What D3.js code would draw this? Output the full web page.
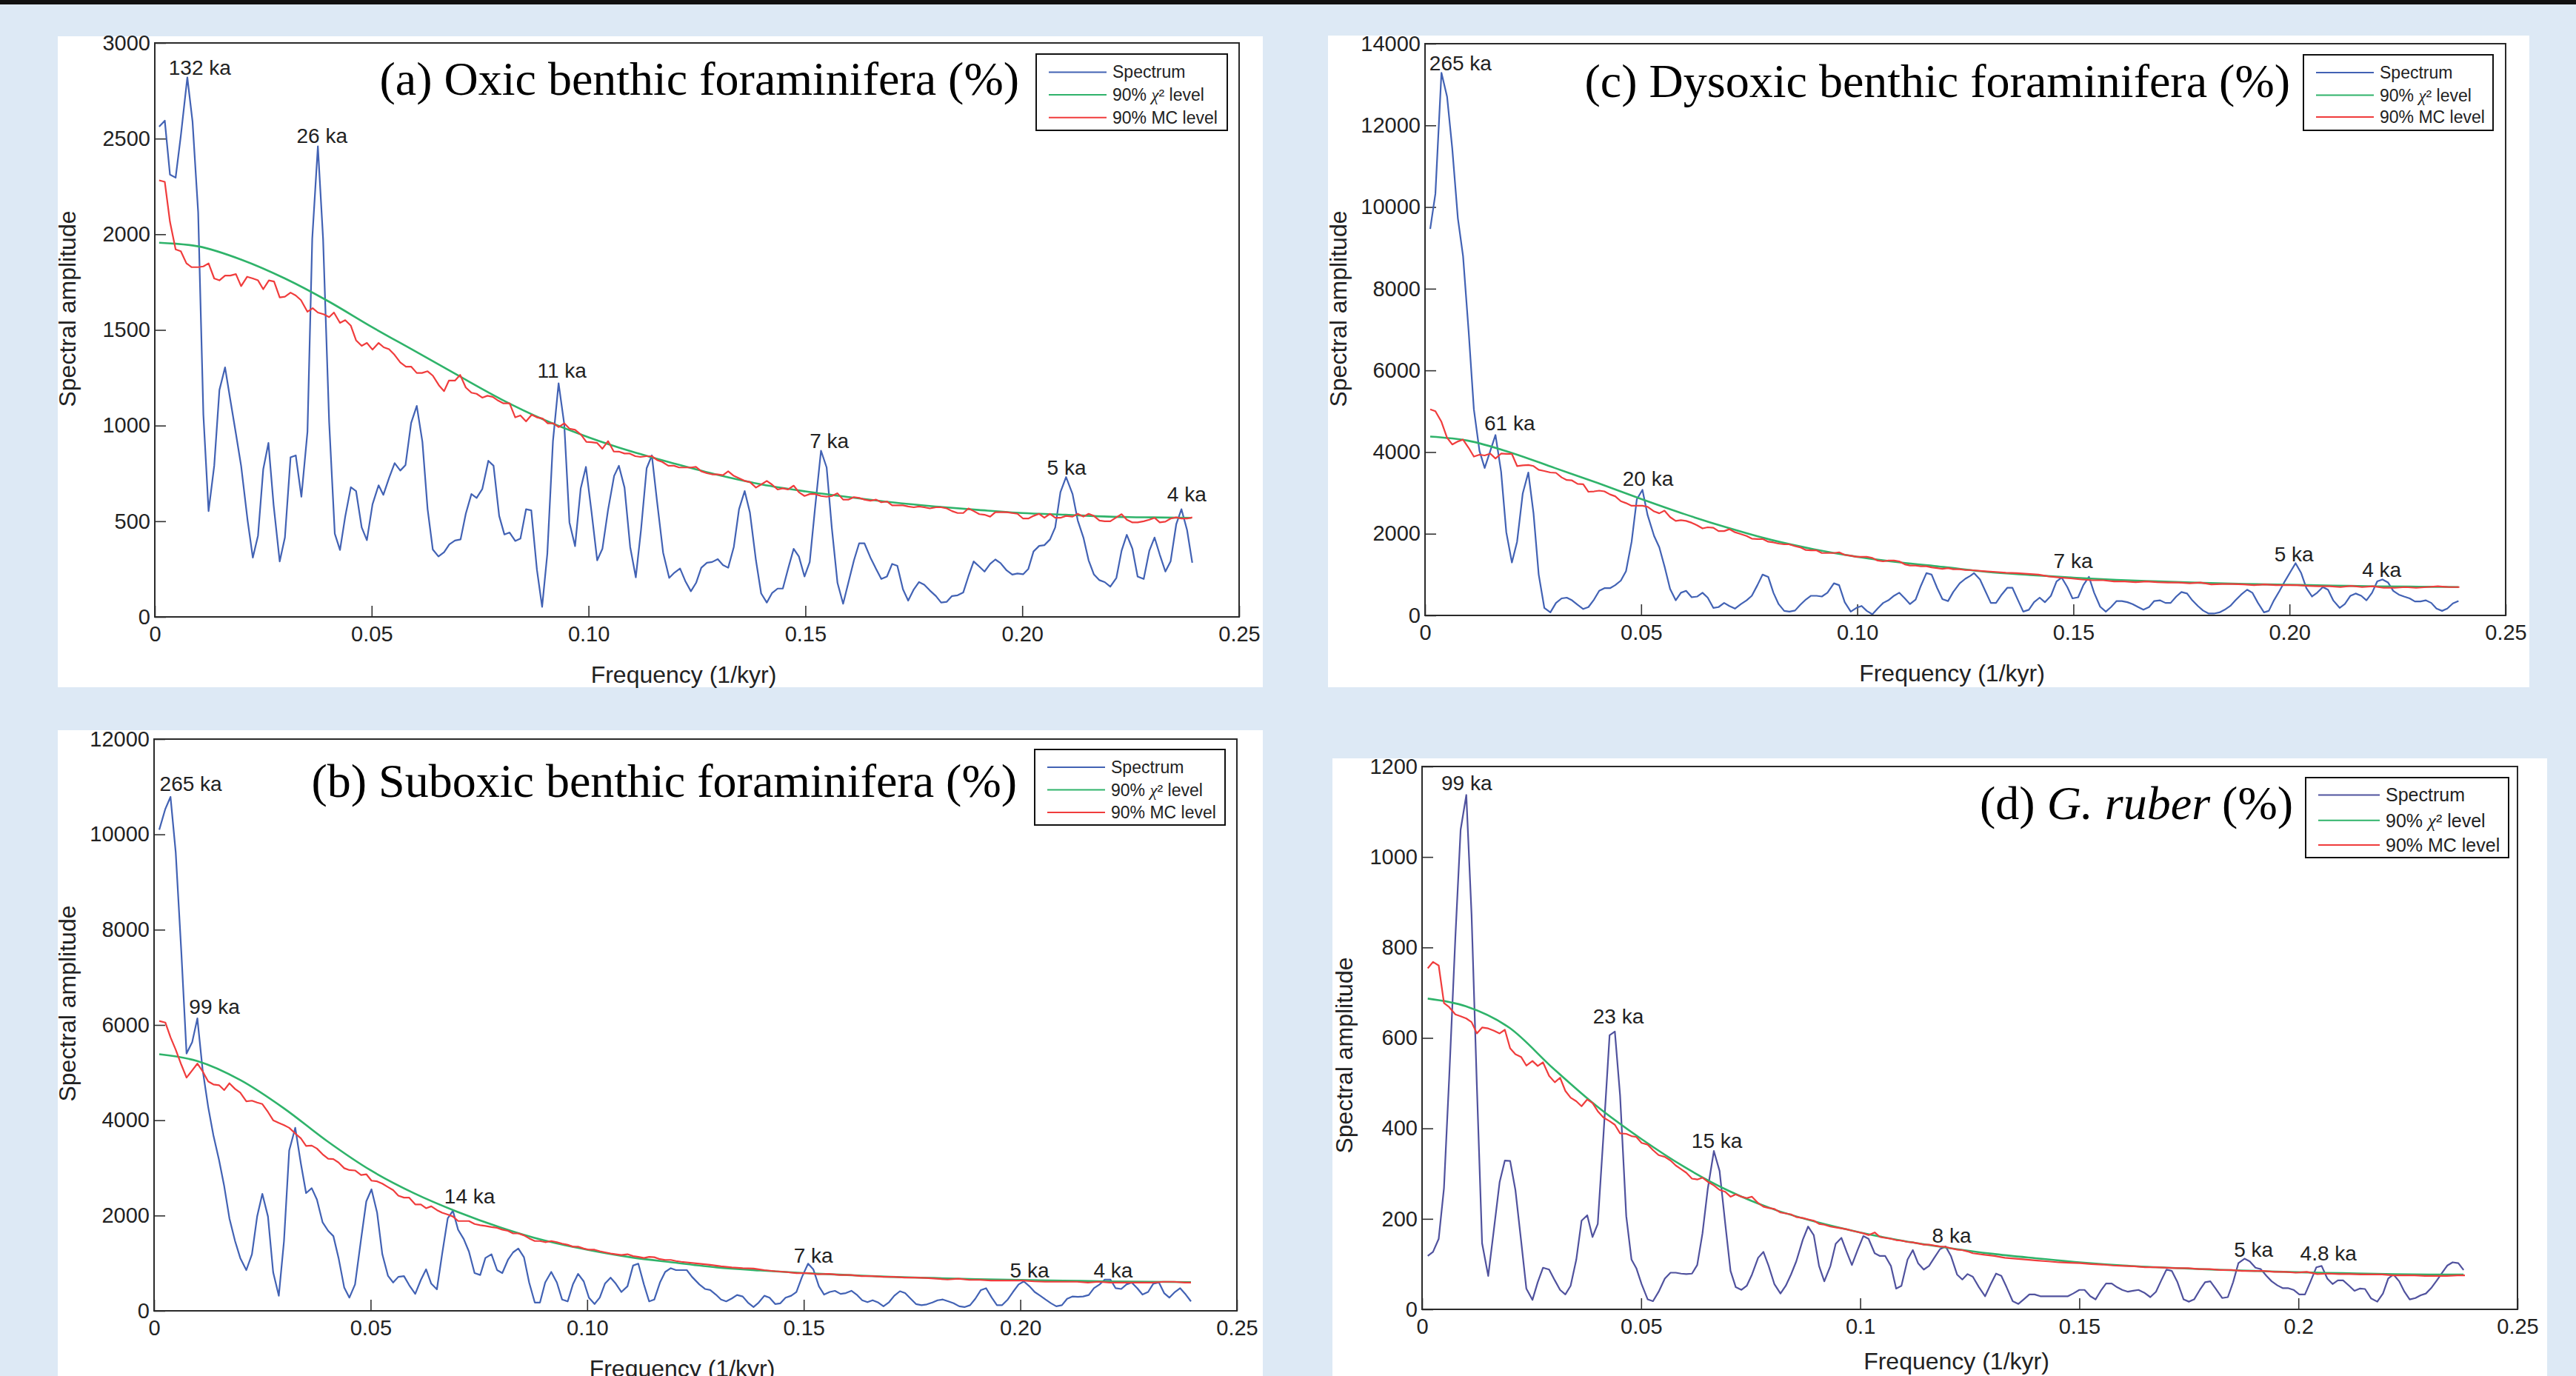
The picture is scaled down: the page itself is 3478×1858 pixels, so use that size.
<!DOCTYPE html>
<html>
<head>
<meta charset="utf-8">
<script src="https://cdn.jsdelivr.net/npm/d3@7"></script>
<style>
  html, body { margin: 0; padding: 0; background: #dde9f5; }
  svg { display: block; }
</style>
</head>
<body>
<svg id="chart" width="3478" height="1858"></svg>
<script>
// ---- tick labels ----
const xTickValues = [0, 0.05, 0.10, 0.15, 0.20, 0.25];
const xLabelsLong = ["0", "0.05", "0.10", "0.15", "0.20", "0.25"];
const xLabelsShort = ["0", "0.05", "0.1", "0.15", "0.2", "0.25"];
const yTicksOxic = [0, 500, 1000, 1500, 2000, 2500, 3000];
const yTicksSuboxic = [0, 2000, 4000, 6000, 8000, 10000, 12000];
const yTicksDysoxic = [0, 2000, 4000, 6000, 8000, 10000, 12000, 14000];
const yTicksRuber = [0, 200, 400, 600, 800, 1000, 1200];

const legendNames = ["Spectrum", "90% \u03C7\u00B2 level", "90% MC level"];

// ---- (a) Oxic benthic foraminifera: [frequency, amplitude] ----
const oxicSpectrum = [[0.001,2563],[0.0023,2594],[0.0035,2312],[0.0048,2296],[0.006,2515],[0.0075,2820],[0.0087,2589],[0.010,2114],[0.0112,1057],[0.0124,553],[0.0137,790],[0.0149,1186],[0.0162,1304],[0.0174,1136],[0.0187,958],[0.0199,790],[0.0214,504],[0.0226,310],[0.0238,425],[0.025,771],[0.0262,909],[0.0274,583],[0.0288,290],[0.030,415],[0.0313,834],[0.0325,844],[0.0338,628],[0.0352,968],[0.0363,1976],[0.0376,2460],[0.0388,1976],[0.0402,1018],[0.0415,435],[0.0427,350],[0.0439,524],[0.0452,678],[0.0464,658],[0.0477,468],[0.0489,401],[0.0502,589],[0.0516,688],[0.0527,638],[0.054,725],[0.0553,804],[0.0566,765],[0.0578,794],[0.0591,1014],[0.0604,1103],[0.0617,915],[0.0629,563],[0.0641,352],[0.0654,316],[0.0667,338],[0.0679,379],[0.0692,399],[0.0705,405],[0.0717,539],[0.073,642],[0.0742,622],[0.0755,668],[0.0769,816],[0.0781,790],[0.0794,528],[0.0806,431],[0.0818,441],[0.0831,397],[0.0843,409],[0.0856,563],[0.0868,557],[0.0881,247],[0.0893,53],[0.0905,330],[0.0918,919],[0.0931,1221],[0.0944,1008],[0.0956,494],[0.0969,370],[0.0982,672],[0.0994,784],[0.1007,547],[0.102,296],[0.1032,356],[0.1045,559],[0.1059,737],[0.107,790],[0.1083,676],[0.1096,366],[0.1109,207],[0.1121,454],[0.1134,777],[0.1146,844],[0.1158,603],[0.1172,336],[0.1186,204],[0.1198,231],[0.1211,253],[0.1223,188],[0.1236,134],[0.1248,178],[0.126,257],[0.1273,283],[0.1285,287],[0.1298,302],[0.131,271],[0.1322,257],[0.1335,366],[0.1347,563],[0.136,658],[0.1372,547],[0.1386,296],[0.1398,123],[0.1411,75],[0.1423,124],[0.1436,148],[0.1448,148],[0.146,251],[0.1473,356],[0.1485,316],[0.1498,211],[0.151,287],[0.1522,563],[0.1536,869],[0.1549,781],[0.1561,464],[0.1574,178],[0.1587,69],[0.1599,178],[0.1612,296],[0.1624,385],[0.1636,385],[0.165,310],[0.1663,251],[0.1675,198],[0.1688,211],[0.17,277],[0.1712,267],[0.1725,144],[0.1737,85],[0.175,144],[0.1762,182],[0.1774,168],[0.1787,138],[0.1801,109],[0.1813,75],[0.1826,79],[0.1838,109],[0.1851,113],[0.1864,128],[0.1876,213],[0.1888,290],[0.1901,263],[0.1913,237],[0.1926,277],[0.1938,300],[0.195,281],[0.1964,243],[0.1977,221],[0.1989,227],[0.2002,223],[0.2014,251],[0.2026,342],[0.2039,371],[0.2051,375],[0.2064,405],[0.2076,468],[0.2088,652],[0.2101,731],[0.2116,642],[0.2128,504],[0.2141,415],[0.2153,296],[0.2165,223],[0.2178,192],[0.219,182],[0.2203,158],[0.2217,204],[0.2229,346],[0.2241,429],[0.2254,356],[0.2266,211],[0.228,198],[0.2293,346],[0.2305,415],[0.2317,326],[0.233,237],[0.2342,290],[0.2355,484],[0.2367,563],[0.238,454],[0.2392,283]];
const oxicChi = [[0.001,1956],[0.01,1937],[0.02,1867],[0.03,1769],[0.04,1650],[0.05,1516],[0.06,1389],[0.07,1261],[0.08,1136],[0.09,1028],[0.10,939],[0.11,864],[0.12,800],[0.13,741],[0.14,692],[0.15,656],[0.16,626],[0.17,599],[0.18,577],[0.19,559],[0.20,543],[0.21,534],[0.22,524],[0.23,520],[0.239,518]];
const oxicMC = [[0.001,2282],[0.0023,2274],[0.0035,2065],[0.0048,1921],[0.006,1911],[0.0073,1848],[0.0085,1828],[0.010,1828],[0.0112,1832],[0.0124,1848],[0.0137,1769],[0.0149,1759],[0.0162,1784],[0.0174,1784],[0.0187,1792],[0.0199,1729],[0.0213,1778],[0.0226,1769],[0.0238,1759],[0.025,1713],[0.0263,1759],[0.0275,1753],[0.0288,1670],[0.030,1674],[0.0313,1695],[0.0325,1680],[0.0337,1656],[0.0352,1595],[0.0364,1614],[0.0376,1591],[0.039,1581],[0.0402,1567],[0.0413,1591],[0.0427,1537],[0.0439,1551],[0.0452,1522],[0.0464,1446],[0.0477,1417],[0.0489,1432],[0.0502,1397],[0.0516,1432],[0.0528,1409],[0.054,1399],[0.0553,1369],[0.0566,1330],[0.0579,1308],[0.0591,1308],[0.0604,1275],[0.0616,1275],[0.0629,1284],[0.0641,1261],[0.0655,1211],[0.0667,1180],[0.0678,1235],[0.0692,1235],[0.0704,1265],[0.0717,1199],[0.073,1172],[0.0742,1166],[0.0755,1146],[0.0767,1156],[0.0779,1150],[0.0792,1130],[0.0804,1116],[0.0818,1116],[0.0831,1043],[0.0843,1053],[0.0856,1022],[0.0869,1057],[0.0881,1043],[0.0894,1037],[0.0906,1012],[0.0919,1012],[0.0931,992],[0.0944,1012],[0.0956,984],[0.0969,978],[0.0983,952],[0.0995,915],[0.1007,913],[0.102,909],[0.1032,879],[0.1045,919],[0.1058,865],[0.107,864],[0.1083,854],[0.1095,854],[0.1108,840],[0.112,836],[0.1133,840],[0.1146,840],[0.1158,820],[0.117,810],[0.1184,790],[0.1197,790],[0.1209,781],[0.1221,781],[0.1236,781],[0.1248,784],[0.126,761],[0.1273,751],[0.1285,745],[0.1298,745],[0.131,741],[0.1322,761],[0.1335,737],[0.1347,725],[0.136,711],[0.1372,705],[0.1386,676],[0.1398,692],[0.1411,711],[0.1423,692],[0.1436,666],[0.1448,672],[0.146,666],[0.1473,686],[0.1485,652],[0.1498,632],[0.151,642],[0.1522,642],[0.1536,632],[0.1549,628],[0.1561,632],[0.1574,646],[0.1587,613],[0.1599,613],[0.1612,626],[0.1624,622],[0.1636,613],[0.165,607],[0.1663,613],[0.1675,599],[0.1688,603],[0.17,583],[0.1712,583],[0.1725,583],[0.1737,577],[0.175,573],[0.1762,577],[0.1774,573],[0.1787,567],[0.1801,573],[0.1813,573],[0.1826,567],[0.1838,553],[0.1851,543],[0.1864,543],[0.1876,567],[0.1888,553],[0.1901,537],[0.1913,534],[0.1926,524],[0.1938,547],[0.195,547],[0.1964,547],[0.1977,543],[0.1989,539],[0.2002,514],[0.2014,514],[0.2026,528],[0.2039,539],[0.2051,518],[0.2064,539],[0.2076,518],[0.2088,518],[0.2101,528],[0.2116,524],[0.2128,539],[0.2141,524],[0.2153,539],[0.2165,528],[0.2178,504],[0.219,500],[0.2203,500],[0.2217,520],[0.2229,537],[0.2241,508],[0.2254,494],[0.2266,494],[0.228,500],[0.2293,508],[0.2305,518],[0.2317,494],[0.233,498],[0.2342,514],[0.2355,520],[0.2367,514],[0.238,514],[0.2392,520]];
const oxicPeaks = [[0.0032,2834,"132 ka"],[0.0327,2477,"26 ka"],[0.0882,1250,"11 ka"],[0.151,884,"7 ka"],[0.2057,744,"5 ka"],[0.2334,602,"4 ka"]];

// ---- (b) Suboxic benthic foraminifera ----
const suboxicSpectrum = [[0.0012,10098],[0.0026,10534],[0.0038,10787],[0.005,9623],[0.0063,7524],[0.0075,5401],[0.0088,5639],[0.01,6138],[0.0112,5069],[0.0125,4277],[0.0137,3683],[0.015,3168],[0.0162,2614],[0.0174,1940],[0.0187,1465],[0.0199,1109],[0.0213,855],[0.0226,1188],[0.0238,1980],[0.025,2455],[0.0263,1980],[0.0275,808],[0.0288,317],[0.03,1465],[0.0312,3366],[0.0326,3841],[0.0339,3089],[0.0351,2471],[0.0364,2574],[0.0376,2336],[0.0389,1861],[0.0402,1679],[0.0414,1568],[0.0426,1109],[0.0439,491],[0.0451,277],[0.0464,554],[0.0478,1505],[0.049,2297],[0.0502,2550],[0.0515,2059],[0.0527,1188],[0.054,737],[0.0552,594],[0.0564,713],[0.0577,729],[0.0589,539],[0.0603,356],[0.0616,649],[0.0628,871],[0.064,570],[0.0653,451],[0.0665,1188],[0.0678,1940],[0.069,2099],[0.0702,1703],[0.0715,1505],[0.0727,1243],[0.074,792],[0.0753,752],[0.0765,1109],[0.0779,1188],[0.0792,855],[0.0804,792],[0.0817,1069],[0.0829,1228],[0.0841,1307],[0.0854,1125],[0.0866,594],[0.0879,174],[0.0891,174],[0.0903,594],[0.0917,816],[0.093,594],[0.0942,238],[0.0955,198],[0.0967,554],[0.0979,776],[0.0992,618],[0.1004,277],[0.1017,143],[0.1029,277],[0.1041,570],[0.1054,697],[0.1066,570],[0.1079,396],[0.1093,515],[0.1106,950],[0.1118,990],[0.1131,554],[0.1143,198],[0.1155,238],[0.1168,594],[0.118,816],[0.1193,895],[0.1205,855],[0.1217,855],[0.123,855],[0.1242,713],[0.1259,554],[0.1272,459],[0.1284,436],[0.1297,341],[0.1309,238],[0.1321,198],[0.1334,261],[0.1346,333],[0.1359,301],[0.1371,174],[0.1384,79],[0.1396,174],[0.1409,317],[0.1421,277],[0.1434,143],[0.1446,158],[0.1458,277],[0.1471,317],[0.1483,396],[0.1496,713],[0.151,990],[0.1522,871],[0.1535,515],[0.1547,341],[0.156,396],[0.1572,420],[0.1585,356],[0.1597,372],[0.161,420],[0.1622,341],[0.1635,222],[0.1647,182],[0.1659,222],[0.1672,174],[0.1684,95],[0.1697,182],[0.1709,317],[0.1722,412],[0.1734,372],[0.1747,253],[0.1759,143],[0.1772,119],[0.1784,135],[0.1797,174],[0.1809,222],[0.1821,238],[0.1834,198],[0.1846,158],[0.1859,95],[0.1871,79],[0.1884,119],[0.1896,253],[0.1909,436],[0.1921,475],[0.1934,277],[0.1946,119],[0.1958,119],[0.1971,238],[0.1983,396],[0.1996,554],[0.2008,618],[0.2021,515],[0.2033,396],[0.2046,317],[0.2058,238],[0.2071,158],[0.2083,95],[0.2096,119],[0.2108,253],[0.212,301],[0.2133,293],[0.2145,301],[0.2158,333],[0.217,475],[0.2183,554],[0.2195,657],[0.2208,657],[0.222,475],[0.2233,459],[0.2245,554],[0.2257,594],[0.227,475],[0.2282,341],[0.2295,396],[0.2307,570],[0.232,594],[0.2332,372],[0.2344,277],[0.2357,396],[0.2369,475],[0.2382,341],[0.2394,198]];
const suboxicChi = [[0.0012,5386],[0.01,5243],[0.02,4840],[0.03,4250],[0.04,3560],[0.05,2950],[0.06,2470],[0.07,2080],[0.08,1750],[0.09,1480],[0.10,1283],[0.11,1125],[0.12,1014],[0.13,911],[0.14,847],[0.15,792],[0.16,752],[0.17,713],[0.18,689],[0.19,665],[0.20,649],[0.21,634],[0.22,618],[0.23,610],[0.2394,602]];
const suboxicMC = [[0.0012,6083],[0.0026,6051],[0.0038,5742],[0.005,5481],[0.0063,5164],[0.0075,4895],[0.0088,5045],[0.01,5188],[0.0112,5029],[0.0125,4815],[0.0137,4752],[0.015,4736],[0.0162,4633],[0.0174,4776],[0.0187,4657],[0.0199,4578],[0.0213,4396],[0.0226,4411],[0.0238,4372],[0.025,4340],[0.0263,4174],[0.0275,4000],[0.0288,3944],[0.03,3897],[0.0312,3841],[0.0326,3722],[0.0339,3619],[0.0351,3461],[0.0364,3469],[0.0376,3406],[0.0389,3287],[0.0402,3192],[0.0414,3184],[0.0426,3113],[0.0439,2994],[0.0451,2954],[0.0464,2946],[0.0478,2851],[0.049,2867],[0.0502,2732],[0.0515,2717],[0.0527,2669],[0.054,2598],[0.0552,2534],[0.0564,2416],[0.0577,2376],[0.0589,2376],[0.0603,2233],[0.0616,2233],[0.0628,2154],[0.064,2194],[0.0653,2115],[0.0665,2059],[0.0678,2020],[0.069,1980],[0.0702,1885],[0.0715,1885],[0.0727,1885],[0.074,1822],[0.0753,1798],[0.0765,1782],[0.0779,1758],[0.0792,1742],[0.0804,1703],[0.0817,1679],[0.0829,1624],[0.0841,1624],[0.0854,1584],[0.0866,1521],[0.0879,1465],[0.0891,1465],[0.0903,1441],[0.0917,1465],[0.093,1441],[0.0942,1410],[0.0955,1386],[0.0967,1346],[0.0979,1346],[0.0992,1307],[0.1004,1283],[0.1017,1283],[0.1029,1251],[0.1041,1228],[0.1054,1204],[0.1066,1188],[0.1079,1172],[0.1093,1188],[0.1106,1148],[0.1118,1133],[0.1131,1109],[0.1143,1133],[0.1155,1125],[0.1168,1085],[0.118,1069],[0.1193,1069],[0.1205,1045],[0.1217,1030],[0.1259,990],[0.1284,966],[0.1309,935],[0.1334,911],[0.1359,895],[0.1384,887],[0.1409,855],[0.1434,832],[0.1458,816],[0.1483,792],[0.1508,792],[0.1533,768],[0.1558,776],[0.1583,752],[0.1608,752],[0.1633,729],[0.1658,729],[0.1683,713],[0.1708,713],[0.1733,697],[0.1757,697],[0.1782,689],[0.1807,673],[0.1832,657],[0.1857,673],[0.1882,649],[0.1907,649],[0.1932,634],[0.1957,634],[0.1982,634],[0.2007,634],[0.2032,618],[0.2057,610],[0.2081,610],[0.2106,610],[0.2131,610],[0.2156,594],[0.2181,610],[0.2206,594],[0.2231,594],[0.2256,594],[0.2281,594],[0.2306,594],[0.2331,610],[0.2355,610],[0.238,594],[0.2394,594]];
const suboxicPeaks = [[0.0013,10909,"265 ka"],[0.0081,6228,"99 ka"],[0.067,2249,"14 ka"],[0.1477,1004,"7 ka"],[0.1976,702,"5 ka"],[0.2169,702,"4 ka"]];

// ---- (c) Dysoxic benthic foraminifera ----
const dysoxicSpectrum = [[0.0012,9464],[0.0024,10325],[0.0038,13288],[0.0051,12705],[0.0063,11436],[0.0076,9723],[0.0088,8797],[0.0101,6945],[0.0113,5047],[0.0126,4028],[0.0138,3611],[0.0151,4028],[0.0163,4417],[0.0176,3519],[0.0188,2037],[0.0201,1296],[0.0213,1806],[0.0226,2982],[0.0239,3500],[0.0251,2500],[0.0263,1000],[0.0276,185],[0.029,74],[0.0303,306],[0.0316,417],[0.0328,435],[0.034,370],[0.0353,259],[0.0366,157],[0.0378,204],[0.0391,389],[0.0403,602],[0.0415,667],[0.0428,667],[0.044,741],[0.0453,852],[0.0465,1083],[0.0478,1806],[0.049,2843],[0.0503,3074],[0.0515,2454],[0.053,1945],[0.0542,1667],[0.0554,1204],[0.0567,648],[0.058,370],[0.0592,556],[0.0604,602],[0.0617,444],[0.063,463],[0.0642,556],[0.0654,435],[0.0667,185],[0.0679,204],[0.0692,306],[0.0704,232],[0.0717,167],[0.0731,278],[0.0744,370],[0.0756,481],[0.0769,741],[0.0781,1000],[0.0794,944],[0.0806,556],[0.0818,278],[0.0831,111],[0.0843,93],[0.0856,120],[0.0868,259],[0.0881,389],[0.0893,481],[0.0906,481],[0.0918,463],[0.0931,556],[0.0946,787],[0.0958,741],[0.0971,324],[0.0985,93],[0.0998,185],[0.101,232],[0.1022,111],[0.1035,28],[0.1047,167],[0.106,306],[0.1072,370],[0.1085,481],[0.1097,556],[0.111,417],[0.1122,278],[0.1135,389],[0.1147,722],[0.116,1037],[0.1172,1000],[0.1185,667],[0.1197,398],[0.121,352],[0.1222,574],[0.1237,787],[0.125,898],[0.1262,972],[0.127,1037],[0.1284,880],[0.1296,602],[0.1309,306],[0.1321,306],[0.1334,509],[0.1347,676],[0.1359,676],[0.1372,370],[0.1384,93],[0.1397,139],[0.1409,324],[0.1422,435],[0.1434,324],[0.1448,481],[0.1461,833],[0.1473,926],[0.1486,694],[0.1498,417],[0.1511,444],[0.1523,741],[0.1536,944],[0.1548,556],[0.1562,213],[0.1575,93],[0.1587,204],[0.16,352],[0.1612,352],[0.1625,324],[0.1637,278],[0.165,204],[0.1662,139],[0.1675,204],[0.1687,352],[0.17,370],[0.1713,306],[0.1725,306],[0.1738,463],[0.175,574],[0.1763,537],[0.1775,370],[0.1788,232],[0.18,120],[0.1813,46],[0.1825,46],[0.1838,74],[0.185,139],[0.1863,232],[0.1875,370],[0.1888,509],[0.1902,630],[0.1914,556],[0.1927,306],[0.1941,74],[0.1952,111],[0.1964,370],[0.1977,602],[0.1989,833],[0.2002,1065],[0.2014,1278],[0.2027,1037],[0.2039,667],[0.2052,463],[0.2064,556],[0.2077,694],[0.2089,630],[0.2101,370],[0.2116,185],[0.2128,278],[0.2141,481],[0.2153,537],[0.2166,481],[0.2178,370],[0.2191,556],[0.2203,833],[0.2215,880],[0.2228,806],[0.224,602],[0.2253,509],[0.2265,463],[0.2278,417],[0.229,343],[0.2303,343],[0.2315,370],[0.2328,306],[0.234,167],[0.2353,111],[0.2365,167],[0.2378,296],[0.2391,352]];
const dysoxicChi = [[0.0012,4380],[0.01,4278],[0.02,3982],[0.03,3611],[0.04,3241],[0.05,2852],[0.06,2482],[0.07,2148],[0.08,1852],[0.09,1620],[0.10,1435],[0.11,1296],[0.12,1185],[0.13,1065],[0.14,991],[0.15,926],[0.16,870],[0.17,833],[0.18,796],[0.19,769],[0.20,750],[0.21,731],[0.22,713],[0.23,704],[0.2391,694]];
const dysoxicMC = [[0.0012,5047],[0.0024,5000],[0.0038,4741],[0.0051,4352],[0.0063,4186],[0.0076,4260],[0.0088,4306],[0.0101,4102],[0.0113,3889],[0.0126,3935],[0.0138,3917],[0.0151,3963],[0.0163,3843],[0.0176,3963],[0.0188,3954],[0.0201,3954],[0.0213,3658],[0.0226,3676],[0.0239,3685],[0.0251,3658],[0.0263,3565],[0.0276,3537],[0.029,3500],[0.0303,3491],[0.0316,3380],[0.0328,3315],[0.034,3306],[0.0353,3222],[0.0366,3213],[0.0378,3028],[0.0391,3037],[0.0403,3056],[0.0415,3037],[0.0428,2963],[0.044,2917],[0.0453,2797],[0.0465,2750],[0.0478,2685],[0.049,2685],[0.0503,2685],[0.0515,2658],[0.053,2547],[0.0542,2500],[0.0554,2565],[0.0567,2408],[0.058,2315],[0.0592,2334],[0.0604,2315],[0.0617,2269],[0.063,2204],[0.0642,2130],[0.0654,2158],[0.0667,2148],[0.0679,2065],[0.0692,2065],[0.0704,2111],[0.0717,2037],[0.0731,1991],[0.0744,1945],[0.0756,1880],[0.0769,1871],[0.0781,1871],[0.0794,1806],[0.0806,1787],[0.0818,1759],[0.0831,1741],[0.0843,1741],[0.0856,1695],[0.0868,1667],[0.0881,1602],[0.0893,1593],[0.0906,1593],[0.0918,1528],[0.0931,1528],[0.0946,1528],[0.0958,1546],[0.0971,1482],[0.0985,1463],[0.0998,1435],[0.101,1435],[0.1022,1435],[0.1035,1408],[0.1047,1343],[0.106,1324],[0.1072,1343],[0.1085,1343],[0.1097,1324],[0.111,1250],[0.1122,1222],[0.1135,1222],[0.1147,1204],[0.116,1204],[0.1172,1176],[0.1185,1157],[0.1197,1139],[0.121,1157],[0.1222,1130],[0.1237,1130],[0.125,1111],[0.1262,1111],[0.1295,1083],[0.132,1065],[0.1344,1046],[0.1369,1037],[0.1394,1019],[0.1419,1000],[0.1444,954],[0.1469,926],[0.1494,907],[0.1519,880],[0.1544,861],[0.1569,861],[0.1594,833],[0.1619,833],[0.1644,815],[0.1669,833],[0.1694,815],[0.1719,806],[0.1744,806],[0.1769,787],[0.1794,806],[0.1819,759],[0.1844,769],[0.1869,769],[0.1894,759],[0.1918,741],[0.1943,759],[0.1968,741],[0.1993,741],[0.2018,741],[0.2043,722],[0.2068,713],[0.2093,713],[0.2118,694],[0.2143,722],[0.2168,694],[0.2193,713],[0.2218,676],[0.2243,676],[0.2268,694],[0.2293,676],[0.2318,694],[0.2343,713],[0.2368,694],[0.2393,694]];
const dysoxicPeaks = [[0.001,13340,"265 ka"],[0.0137,4530,"61 ka"],[0.0457,3171,"20 ka"],[0.1454,1156,"7 ka"],[0.1965,1321,"5 ka"],[0.2168,942,"4 ka"]];

// ---- (d) G. ruber ----
const ruberSpectrum = [[0.0013,118],[0.0025,127],[0.0038,156],[0.005,268],[0.0062,514],[0.0076,822],[0.0088,1060],[0.0101,1137],[0.0113,872],[0.0125,497],[0.0137,146],[0.0151,74],[0.0164,177],[0.0177,281],[0.0189,329],[0.0201,328],[0.0213,264],[0.0226,152],[0.0238,46],[0.0252,21],[0.0264,60],[0.0276,92],[0.029,88],[0.0303,64],[0.0315,43],[0.0327,33],[0.0339,52],[0.0352,110],[0.0364,196],[0.0377,208],[0.0389,160],[0.0401,189],[0.0414,385],[0.0428,606],[0.044,614],[0.0452,472],[0.0466,206],[0.0478,110],[0.0489,91],[0.0501,56],[0.0515,22],[0.0527,18],[0.054,39],[0.0554,68],[0.0567,81],[0.0579,81],[0.0591,79],[0.0603,78],[0.0616,79],[0.0628,98],[0.064,168],[0.0652,266],[0.0666,350],[0.0679,306],[0.0692,189],[0.0704,85],[0.0716,49],[0.0729,43],[0.0741,52],[0.0753,77],[0.0767,114],[0.0779,127],[0.0791,96],[0.0804,56],[0.0818,35],[0.083,52],[0.0842,77],[0.0854,106],[0.0869,154],[0.0881,183],[0.0894,164],[0.0906,96],[0.0918,62],[0.0932,96],[0.0944,145],[0.0957,158],[0.0969,127],[0.0981,98],[0.0994,131],[0.1007,162],[0.1019,156],[0.1033,124],[0.1045,118],[0.1057,118],[0.107,96],[0.1082,46],[0.1094,52],[0.1108,110],[0.112,131],[0.1132,102],[0.1145,88],[0.1157,96],[0.1169,114],[0.1182,133],[0.1195,139],[0.1207,118],[0.1221,77],[0.1233,66],[0.1245,78],[0.1257,72],[0.1271,49],[0.1285,29],[0.1298,56],[0.131,79],[0.1322,74],[0.1334,49],[0.1348,18],[0.1361,12],[0.1373,22],[0.1386,33],[0.1398,33],[0.1411,29],[0.1423,29],[0.1435,29],[0.1448,29],[0.146,29],[0.1474,29],[0.1486,35],[0.15,43],[0.1512,43],[0.1525,29],[0.1537,22],[0.1549,41],[0.1561,57],[0.1574,57],[0.1586,49],[0.1598,43],[0.1611,39],[0.1623,41],[0.1635,43],[0.1648,37],[0.1662,27],[0.1675,39],[0.1687,64],[0.1699,88],[0.1711,85],[0.1724,60],[0.1738,22],[0.175,17],[0.1762,22],[0.1775,43],[0.1787,60],[0.1799,62],[0.1811,46],[0.1826,25],[0.1839,27],[0.1851,60],[0.1863,102],[0.1877,112],[0.1889,106],[0.1902,92],[0.1914,89],[0.1927,74],[0.1939,62],[0.1952,53],[0.1964,47],[0.1976,47],[0.1989,43],[0.2002,33],[0.2015,33],[0.2027,60],[0.2041,93],[0.2053,96],[0.2066,68],[0.2078,56],[0.209,64],[0.2102,64],[0.2116,52],[0.2128,41],[0.214,46],[0.2152,45],[0.2166,24],[0.218,17],[0.2193,35],[0.2205,68],[0.2217,77],[0.223,62],[0.2242,39],[0.2254,22],[0.2267,25],[0.2279,31],[0.2291,35],[0.2303,47],[0.2316,64],[0.2328,81],[0.234,97],[0.2352,104],[0.2365,102],[0.2377,87]];
const ruberChi = [[0.0013,687],[0.01,670],[0.02,622],[0.03,532],[0.04,448],[0.05,377],[0.06,314],[0.07,262],[0.08,222],[0.09,193],[0.10,170],[0.11,151],[0.12,136],[0.13,123],[0.14,113],[0.15,104],[0.16,97],[0.17,92],[0.18,88],[0.19,85],[0.20,82],[0.21,80],[0.22,78],[0.23,77],[0.2377,77]];
const ruberMC = [[0.0013,754],[0.0025,768],[0.0038,760],[0.005,677],[0.0062,668],[0.0076,652],[0.0088,648],[0.0101,643],[0.0113,635],[0.0125,610],[0.0137,623],[0.0151,621],[0.0164,616],[0.0177,610],[0.0189,618],[0.0201,577],[0.0213,564],[0.0226,558],[0.0238,539],[0.0252,549],[0.0264,538],[0.0276,546],[0.029,516],[0.0303,502],[0.0315,512],[0.0327,483],[0.0339,468],[0.0352,460],[0.0364,449],[0.0377,464],[0.0389,456],[0.0401,438],[0.0414,424],[0.0428,416],[0.044,408],[0.0452,389],[0.0466,388],[0.0478,383],[0.0489,381],[0.0501,368],[0.0515,364],[0.0527,352],[0.054,341],[0.0554,337],[0.0567,329],[0.0579,318],[0.0591,310],[0.0603,302],[0.0616,289],[0.0628,287],[0.064,291],[0.0652,282],[0.0666,274],[0.0679,264],[0.0692,260],[0.0704,249],[0.0716,254],[0.0729,249],[0.0741,246],[0.0753,249],[0.0767,235],[0.0779,227],[0.0791,224],[0.0804,222],[0.0818,214],[0.083,212],[0.0842,210],[0.0854,204],[0.0869,202],[0.0881,199],[0.0894,196],[0.0906,189],[0.0918,187],[0.0932,183],[0.0944,181],[0.0957,179],[0.0969,177],[0.0981,174],[0.0994,171],[0.1007,168],[0.1019,164],[0.1033,170],[0.1045,160],[0.1057,158],[0.107,156],[0.1082,153],[0.1094,152],[0.1108,149],[0.112,148],[0.1132,146],[0.1145,143],[0.1157,143],[0.1169,141],[0.1182,139],[0.1195,138],[0.1207,135],[0.1221,132],[0.1233,131],[0.1245,128],[0.1257,124],[0.1281,121],[0.1306,118],[0.133,114],[0.1355,112],[0.138,110],[0.1404,108],[0.1429,106],[0.1453,104],[0.1478,103],[0.1502,102],[0.1527,100],[0.1552,99],[0.1576,97],[0.1601,96],[0.1625,95],[0.165,93],[0.1675,93],[0.1699,92],[0.1724,91],[0.1748,91],[0.1773,89],[0.1798,89],[0.1822,87],[0.1847,87],[0.1871,85],[0.1896,85],[0.192,85],[0.1945,83],[0.197,83],[0.1994,81],[0.2019,83],[0.2043,78],[0.2068,79],[0.2093,78],[0.2117,78],[0.2142,77],[0.2166,77],[0.2191,77],[0.2216,75],[0.224,75],[0.2265,75],[0.2289,74],[0.2314,74],[0.2339,74],[0.2363,75],[0.238,75]];
const ruberPeaks = [[0.0044,1147,"99 ka"],[0.039,632,"23 ka"],[0.0615,357,"15 ka"],[0.1164,148,"8 ka"],[0.1853,116,"5 ka"],[0.2004,108,"4.8 ka"]];

// ---- layout of the four panels ----
const panels = [
  { frame: [78, 49, 1705, 928], axes: [209, 58, 1673, 833], yTicks: yTicksOxic, xLabels: xLabelsLong,
    spectrum: oxicSpectrum, chi: oxicChi, mc: oxicMC, peaks: oxicPeaks, blue: "#4262b4",
    title: ["(a) Oxic benthic foraminifera (%)"], titleX: 1376, titleY: 128,
    legend: [1399, 73, 258, 103], rows: [24.4, 55, 85.7], legendFont: 23,
    yLabelX: 91, yLabelY: 417, xLabelY: 922 },
  { frame: [78, 986, 1705, 1858], axes: [208, 998, 1670, 1770], yTicks: yTicksSuboxic, xLabels: xLabelsLong,
    spectrum: suboxicSpectrum, chi: suboxicChi, mc: suboxicMC, peaks: suboxicPeaks, blue: "#4262b4",
    title: ["(b) Suboxic benthic foraminifera (%)"], titleX: 1373, titleY: 1076,
    legend: [1397, 1012, 257, 102], rows: [24, 54.6, 85], legendFont: 23,
    yLabelX: 91, yLabelY: 1355, xLabelY: 1859 },
  { frame: [1793, 48, 3415, 928], axes: [1924, 59, 3383, 831], yTicks: yTicksDysoxic, xLabels: xLabelsLong,
    spectrum: dysoxicSpectrum, chi: dysoxicChi, mc: dysoxicMC, peaks: dysoxicPeaks, blue: "#4262b4",
    title: ["(c) Dysoxic benthic foraminifera (%)"], titleX: 3092, titleY: 131,
    legend: [3110, 74, 256, 102], rows: [24, 54.5, 84], legendFont: 23,
    yLabelX: 1807, yLabelY: 417, xLabelY: 920 },
  { frame: [1799, 1024, 3439, 1858], axes: [1920, 1035, 3399, 1768], yTicks: yTicksRuber, xLabels: xLabelsShort,
    spectrum: ruberSpectrum, chi: ruberChi, mc: ruberMC, peaks: ruberPeaks, blue: "#50529e",
    title: ["(d) ", "G. ruber", " (%)"], titleX: 3096, titleY: 1106,
    legend: [3113, 1050, 274, 108], rows: [23.6, 57.8, 91], legendFont: 25,
    yLabelX: 1815, yLabelY: 1425, xLabelY: 1849 }
];

const sans = "'Liberation Sans', Arial, Helvetica, sans-serif";
const serif = "'Liberation Serif', 'Times New Roman', serif";
const green = "#2fb36a";
const red = "#f03c3c";

const svg = d3.select("#chart");
svg.append("rect").attr("width", 3478).attr("height", 1858).attr("fill", "#dde9f5");
svg.append("rect").attr("width", 3478).attr("height", 6).attr("fill", "#111");

panels.forEach(drawPanel);

function drawPanel(p) {
  const g = svg.append("g");
  const [l, t, r, b] = p.axes;

  g.append("rect")
    .attr("x", p.frame[0]).attr("y", p.frame[1])
    .attr("width", p.frame[2] - p.frame[0]).attr("height", p.frame[3] - p.frame[1])
    .attr("fill", "#fff");

  const x = d3.scaleLinear().domain([0, 0.25]).range([l, r]);
  const y = d3.scaleLinear().domain([0, d3.max(p.yTicks)]).range([b, t]);

  // x axis (ticks inside)
  const gx = g.append("g")
    .attr("transform", `translate(0,${b})`)
    .call(d3.axisBottom(x).tickValues(xTickValues)
      .tickFormat((d, i) => p.xLabels[i])
      .tickSizeInner(-15).tickSizeOuter(0).tickPadding(12));
  // y axis (ticks inside)
  const gy = g.append("g")
    .attr("transform", `translate(${l},0)`)
    .call(d3.axisLeft(y).tickValues(p.yTicks)
      .tickFormat(d3.format("d"))
      .tickSizeInner(-15).tickSizeOuter(0).tickPadding(6));
  [gx, gy].forEach(ax => {
    ax.select(".domain").remove();
    ax.selectAll(".tick line").attr("stroke", "#333").attr("stroke-width", 1.6);
    ax.selectAll(".tick text")
      .attr("fill", "#222")
      .style("font-family", sans)
      .style("font-size", "29px");
  });

  // series
  const line = d3.line().x(d => x(d[0])).y(d => y(d[1]));
  const smooth = d3.line().curve(d3.curveMonotoneX).x(d => x(d[0])).y(d => y(d[1]));
  g.append("path").datum(p.spectrum).attr("d", line)
    .attr("fill", "none").attr("stroke", p.blue).attr("stroke-width", 2.2).attr("stroke-linejoin", "round");
  g.append("path").datum(p.chi).attr("d", smooth)
    .attr("fill", "none").attr("stroke", green).attr("stroke-width", 2.6);
  g.append("path").datum(p.mc).attr("d", line)
    .attr("fill", "none").attr("stroke", red).attr("stroke-width", 2.2).attr("stroke-linejoin", "round");

  // axes box
  g.append("rect")
    .attr("x", l).attr("y", t).attr("width", r - l).attr("height", b - t)
    .attr("fill", "none").attr("stroke", "#2a2a2a").attr("stroke-width", 2);

  // peak labels
  g.selectAll(".peak")
    .data(p.peaks)
    .enter()
    .append("text")
    .attr("x", d => x(d[0]))
    .attr("y", d => y(d[1]))
    .attr("fill", "#222")
    .style("font-family", sans)
    .style("font-size", "28px")
    .text(d => d[2]);

  // title
  const title = g.append("text")
    .attr("x", p.titleX).attr("y", p.titleY)
    .attr("text-anchor", "end")
    .attr("fill", "#000")
    .style("font-family", serif)
    .style("font-size", "64px");
  p.title.forEach((s, i) => {
    title.append("tspan")
      .style("font-style", p.title.length > 1 && i === 1 ? "italic" : "normal")
      .text(s);
  });

  // legend
  const [lx, ly, lw, lh] = p.legend;
  const lg = g.append("g").attr("transform", `translate(${lx},${ly})`);
  lg.append("rect").attr("width", lw).attr("height", lh)
    .attr("fill", "#fff").attr("stroke", "#111").attr("stroke-width", 2);
  const legendColors = [p.blue, green, red];
  const lineEnd = p.legendFont > 23 ? 100 : 95;
  p.rows.forEach((ry, i) => {
    lg.append("line")
      .attr("x1", 17).attr("x2", lineEnd).attr("y1", ry).attr("y2", ry)
      .attr("stroke", legendColors[i]).attr("stroke-width", 2);
    const txt = lg.append("text")
      .attr("x", lineEnd + 8).attr("y", ry + p.legendFont * 0.35)
      .attr("fill", "#222")
      .style("font-family", sans)
      .style("font-size", p.legendFont + "px");
    if (i === 1) {
      txt.append("tspan").text("90% ");
      txt.append("tspan").style("font-family", serif).style("font-style", "italic").text("\u03C7");
      txt.append("tspan").text("\u00B2 level");
    } else {
      txt.text(legendNames[i]);
    }
  });

  // axis labels
  g.append("text")
    .attr("x", (l + r) / 2 - 18).attr("y", p.xLabelY)
    .attr("text-anchor", "middle")
    .attr("fill", "#222")
    .style("font-family", sans)
    .style("font-size", "32px")
    .text("Frequency (1/kyr)");
  g.append("text")
    .attr("transform", `translate(${p.yLabelX},${p.yLabelY}) rotate(-90)`)
    .attr("text-anchor", "middle")
    .attr("dy", "0.35em")
    .attr("fill", "#222")
    .style("font-family", sans)
    .style("font-size", "32px")
    .text("Spectral amplitude");
}
</script>
</body>
</html>
